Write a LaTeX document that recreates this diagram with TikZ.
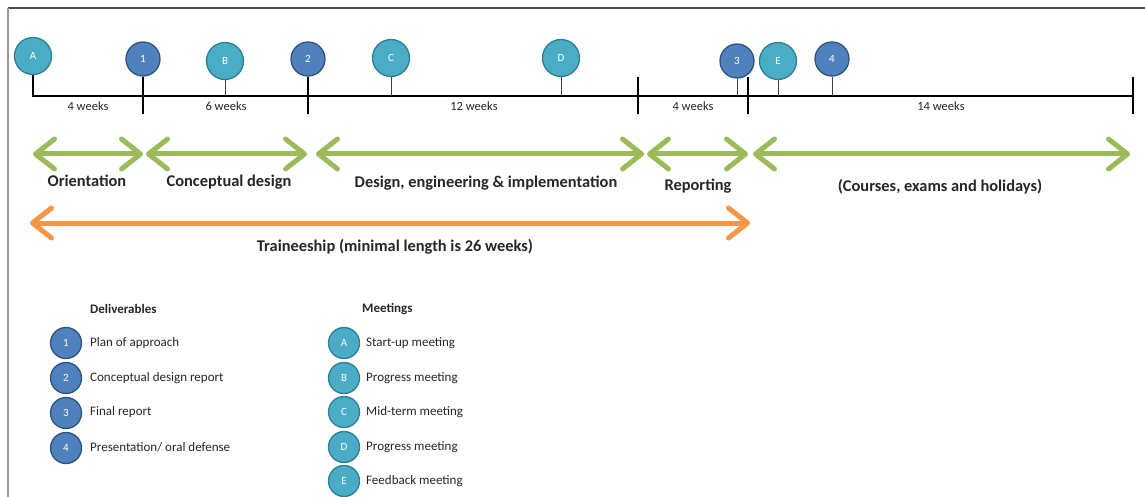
\documentclass[tikz,border=0pt]{standalone}
\usepackage{fontspec}
\setmainfont{Carlito}
\usetikzlibrary{arrows.meta}
\definecolor{txt}{HTML}{262626}
\definecolor{delfill}{HTML}{4F81BD}
\definecolor{deldraw}{HTML}{2F5381}
\definecolor{meetfill}{HTML}{4BACC6}
\definecolor{meetdraw}{HTML}{2D7F94}
\definecolor{garr}{HTML}{9BBB59}
\definecolor{oarr}{HTML}{F79646}
\tikzset{
  deliv/.style={circle, fill=delfill, draw=deldraw, line width=1.3pt, minimum size=34pt, inner sep=0pt, text=white, font=\fontsize{11}{12}\selectfont},
  meet/.style={circle, fill=meetfill, draw=meetdraw, line width=1.3pt, minimum size=37pt, inner sep=0pt, text=white, font=\fontsize{11}{12}\selectfont},
  ldeliv/.style={deliv, minimum size=31pt},
  lmeet/.style={meet, minimum size=31pt},
  tl/.style={line width=2.7pt, draw=black},
  majortick/.style={line width=2.7pt, draw=black},
  stem/.style={line width=0.9pt, draw=black!75},
  wk/.style={font=\fontsize{12.5}{14}\selectfont, text=txt, inner sep=0pt},
  phase/.style={font=\bfseries\fontsize{16.4}{18}\selectfont, text=txt, inner sep=0pt},
  hdr/.style={font=\bfseries\fontsize{13}{15}\selectfont, text=txt, inner sep=0pt, anchor=west},
  item/.style={font=\fontsize{13}{15}\selectfont, text=txt, inner sep=0pt, anchor=west},
  garrow/.style={line width=5pt, draw=garr, {Straight Barb[round,length=19pt,width=30pt]}-{Straight Barb[round,length=19pt,width=30pt]}},
  oarrow/.style={line width=5pt, draw=oarr, {Straight Barb[round,length=19pt,width=30pt]}-{Straight Barb[round,length=19pt,width=30pt]}},
}
\begin{document}
\begin{tikzpicture}[x=1pt,y=-1pt]
\useasboundingbox (0,0) rectangle (1145,497);
% frame
\coordinate (fTL) at (8,8);
\coordinate (fTR) at (1145,8);
\coordinate (fBL) at (8,497);
\draw[line width=1.5pt, draw=black!70] (fTL) -- (fTR);
\draw[line width=1.5pt, draw=black!40] (fTL) -- (fBL);

% timeline circles
\node[meet] (A) at (33,56) {A};
\node[deliv] (d1) at (143,59) {1};
\node[meet] (B) at (225,61) {B};
\node[deliv] (d2) at (308,59) {2};
\node[meet] (C) at (391,58) {C};
\node[meet] (D) at (561,58) {D};
\node[deliv] (d3) at (737,61) {3};
\node[meet] (E) at (778,61) {E};
\node[deliv] (d4) at (832,59) {4};

% timeline coordinates
\coordinate (t0) at (33,96);
\coordinate (tend) at (1133,96);
\coordinate (k1) at (143,114);
\coordinate (k2) at (308,114);
\coordinate (k3a) at (638,77);
\coordinate (k3b) at (638,114);
\coordinate (k4a) at (748,77);
\coordinate (k4b) at (748,114);
\coordinate (k5a) at (1133,77);
\coordinate (k5b) at (1133,114);
\coordinate (sB) at (225,96);
\coordinate (sC) at (391,96);
\coordinate (sD) at (561,96);
\coordinate (s3) at (737,96);
\coordinate (sE) at (778,96);
\coordinate (s4) at (832,96);

\draw[tl, line join=miter] (A.south) -- (t0) -- (tend);
\draw[majortick] (d1.south) -- (k1);
\draw[majortick] (d2.south) -- (k2);
\draw[majortick] (k3a) -- (k3b);
\draw[majortick] (k4a) -- (k4b);
\draw[majortick] (k5a) -- (k5b);
\draw[stem] (B.south) -- (sB);
\draw[stem] (C.south) -- (sC);
\draw[stem] (D.south) -- (sD);
\draw[stem] (d3.south) -- (s3);
\draw[stem] (E.south) -- (sE);
\draw[stem] (d4.south) -- (s4);

% week labels
\node[wk] (w1) at (88,106) {4 weeks};
\node[wk] (w2) at (226,106) {6 weeks};
\node[wk] (w3) at (474,106) {12 weeks};
\node[wk] (w4) at (693,106) {4 weeks};
\node[wk] (w5) at (941,106) {14 weeks};

% green phase arrows
\coordinate (g1a) at (33,154);  \coordinate (g1b) at (143,154);
\coordinate (g2a) at (146,154); \coordinate (g2b) at (307,154);
\coordinate (g3a) at (316,154); \coordinate (g3b) at (644,154);
\coordinate (g4a) at (647,154); \coordinate (g4b) at (748,154);
\coordinate (g5a) at (753,154); \coordinate (g5b) at (1130,154);
\draw[garrow] (g1a) -- (g1b);
\draw[garrow] (g2a) -- (g2b);
\draw[garrow] (g3a) -- (g3b);
\draw[garrow] (g4a) -- (g4b);
\draw[garrow] (g5a) -- (g5b);

\node[phase] (p1) at (87,181) {Orientation};
\node[phase] (p2) at (229,182) {Conceptual design};
\node[phase] (p3) at (486,183) {Design, engineering \& implementation};
\node[phase] (p4) at (698,186) {Reporting};
\node[phase] (p5) at (940,187) {(Courses, exams and holidays)};

% orange traineeship arrow
\coordinate (oa) at (30,223);
\coordinate (ob) at (750,223);
\draw[oarrow] (oa) -- (ob);
\node[phase] (tr) at (395,247) {Traineeship (minimal length is 26 weeks)};

% legend
\node[hdr] (hd) at (90,309) {Deliverables};
\node[ldeliv] (L1) at (66,343) {1};
\node[ldeliv] (L2) at (66,378) {2};
\node[ldeliv] (L3) at (66,413) {3};
\node[ldeliv] (L4) at (66,448) {4};
\node[item] (L1t) at (90,343) {Plan of approach};
\node[item] (L2t) at (90,378) {Conceptual design report};
\node[item] (L3t) at (90,412) {Final report};
\node[item] (L4t) at (90,447) {Presentation/ oral defense};

\node[hdr] (hm) at (362,309) {Meetings};
\node[lmeet] (MA) at (344,343) {A};
\node[lmeet] (MB) at (344,378) {B};
\node[lmeet] (MC) at (344,412) {C};
\node[lmeet] (MD) at (344,447) {D};
\node[lmeet] (ME) at (344,481) {E};
\node[item] (MAt) at (366,343) {Start-up meeting};
\node[item] (MBt) at (366,378) {Progress meeting};
\node[item] (MCt) at (366,412) {Mid-term meeting};
\node[item] (MDt) at (366,447) {Progress meeting};
\node[item] (MEt) at (366,481) {Feedback meeting};
\end{tikzpicture}
\end{document}
